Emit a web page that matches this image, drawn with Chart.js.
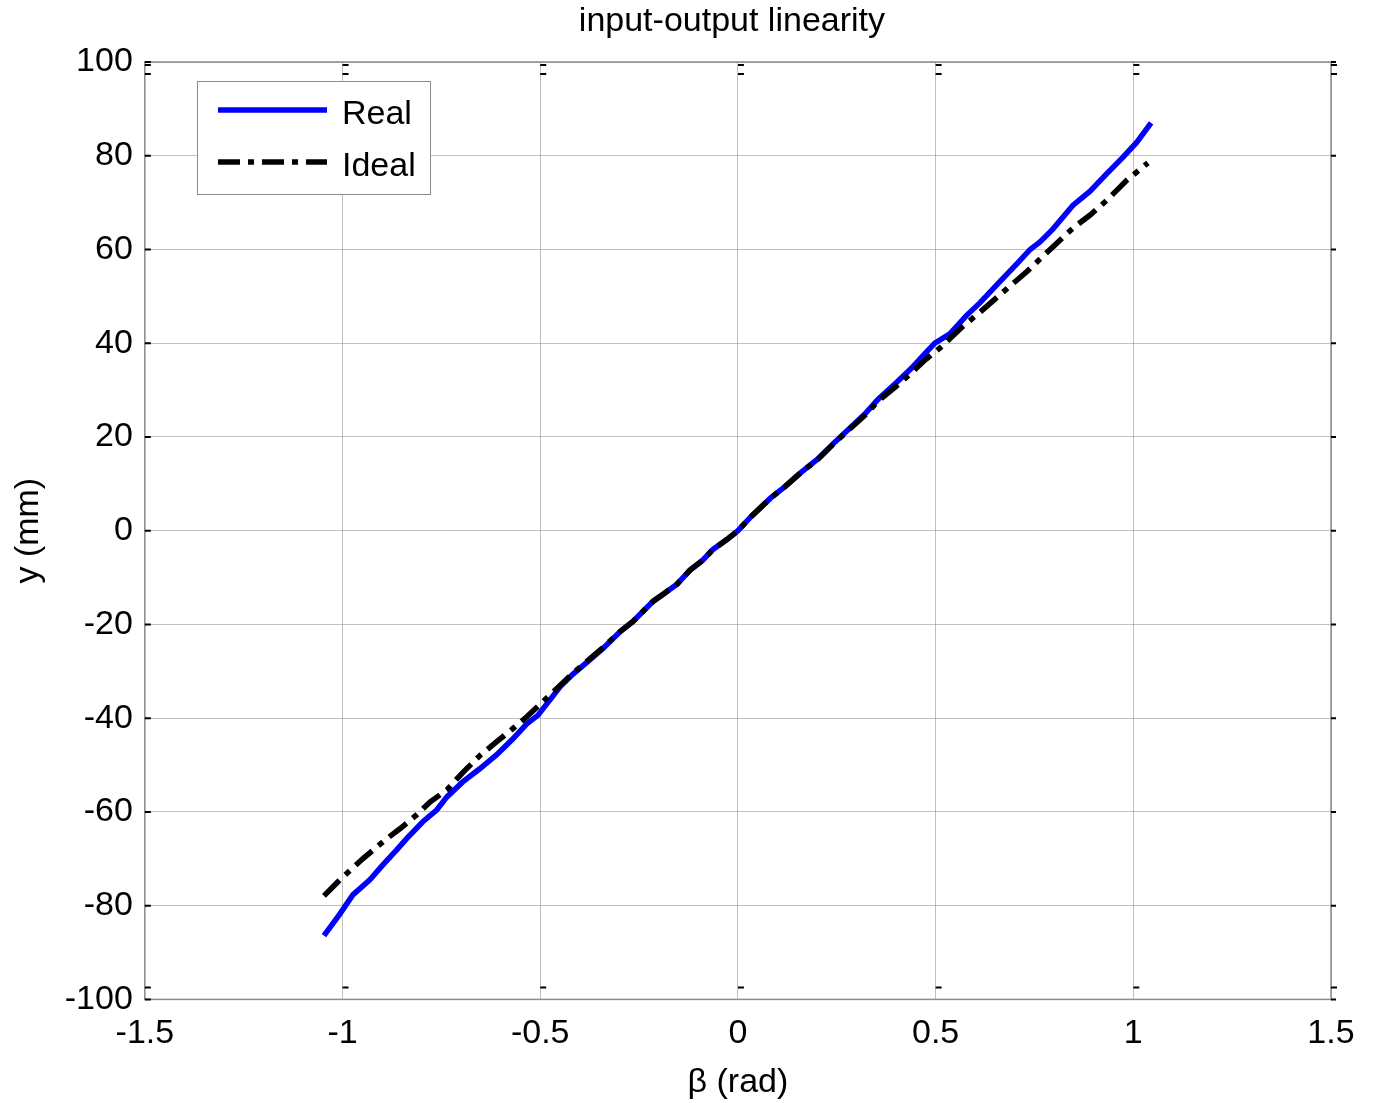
<!DOCTYPE html>
<html>
<head>
<meta charset="utf-8">
<script src="https://cdn.jsdelivr.net/npm/chart.js@4/dist/chart.umd.min.js"></script>
<style>
  html, body { margin: 0; padding: 0; background: #ffffff; }
  #wrap { width: 1375px; height: 1103px; position: relative; }
</style>
</head>
<body>
<div id="wrap"><canvas id="c" width="1375" height="1103"></canvas></div>
<script>
// ---- data ----
const realX = [-1.047,-1.007,-0.974,-0.931,-0.898,-0.863,-0.838,-0.797,-0.762,-0.736,-0.696,-0.653,-0.610,-0.569,-0.534,-0.506,-0.470,-0.450,-0.417,-0.374,-0.342,-0.299,-0.266,-0.215,-0.190,-0.154,-0.121,-0.089,-0.063,-0.028,0,
               0.033,0.083,0.119,0.159,0.202,0.245,0.278,0.321,0.354,0.397,0.438,0.473,0.498,0.536,0.579,0.612,0.663,0.706,0.739,0.764,0.797,0.847,0.890,0.933,0.974,1.009,1.045];
const realY = [-86.4,-81.8,-77.7,-74.5,-71.3,-68.1,-65.7,-62.1,-59.6,-56.8,-53.6,-50.8,-47.8,-44.4,-41.2,-39.4,-35.5,-33.3,-30.6,-27.5,-25.2,-21.6,-19.4,-15.1,-13.6,-11.4,-8.4,-6.3,-4.0,-1.9,0,
               3.0,7.0,9.4,12.4,15.3,18.9,21.5,24.9,28.0,31.3,34.6,37.8,40.0,42.0,46.0,48.6,53.2,57.0,60.0,61.6,64.4,69.4,72.4,76.2,79.7,82.9,87.0];
const idealX = [-1.047,-1.007,-0.949,-0.888,-0.855,-0.812,-0.779,-0.736,-0.696,-0.653,-0.610,-0.569,-0.534,-0.506,-0.450,-0.417,-0.374,-0.342,-0.299,-0.266,-0.215,-0.190,-0.154,-0.121,-0.089,-0.063,-0.028,0,
                0.033,0.083,0.119,0.159,0.202,0.245,0.278,0.321,0.354,0.397,0.438,0.473,0.511,0.569,0.612,0.680,0.731,0.797,0.848,0.890,0.933,0.984,1.037];
const idealY = [-77.9,-74.5,-70.0,-65.7,-63.6,-60.6,-57.9,-55.3,-51.6,-48.0,-45.0,-42.2,-39.7,-37.5,-33.0,-30.4,-27.3,-25.0,-21.6,-19.4,-15.1,-13.6,-11.4,-8.4,-6.3,-4.0,-1.9,0,
                3.0,7.0,9.4,12.4,15.2,18.8,21.3,24.6,27.6,30.6,33.6,36.4,39.0,43.6,46.6,51.6,55.3,60.6,64.6,67.3,70.5,74.8,78.5];
const seriesNames = ['Real', 'Ideal'];
const xTicks = [-1.5,-1,-0.5,0,0.5,1,1.5];
const yTicks = [-100,-80,-60,-40,-20,0,20,40,60,80,100];
const titleText = 'input-output linearity';
const xTitle = 'β (rad)';
const yTitle = 'y (mm)';

const FONT = '"Liberation Sans", Arial, sans-serif';
const FS = 34;
const DASHDOT = [22, 8, 6, 8];

const toPts = (xs, ys) => xs.map((x, i) => ({x: x, y: ys[i]}));

// title centred over the plot area (MATLAB style)
const plotTitle = {
  id: 'plotTitle',
  afterDraw(chart) {
    const ctx = chart.ctx, a = chart.chartArea;
    ctx.save();
    ctx.fillStyle = '#000';
    ctx.font = FS + 'px ' + FONT;
    ctx.textAlign = 'center';
    ctx.textBaseline = 'middle';
    ctx.fillText(titleText, (a.left + a.right) / 2 - 6, 22);
    ctx.restore();
  }
};

// legend drawn inside the plot like MATLAB
const insideLegend = {
  id: 'insideLegend',
  afterDatasetsDraw(chart) {
    const ctx = chart.ctx;
    const x0 = 197, y0 = 81, w = 233, h = 113;
    ctx.save();
    ctx.fillStyle = '#ffffff';
    ctx.fillRect(x0, y0, w, h);
    ctx.strokeStyle = '#8c8c8c';
    ctx.lineWidth = 1;
    ctx.strokeRect(x0 + 0.5, y0 + 0.5, w, h);
    chart.data.datasets.forEach((ds, i) => {
      const yy = y0 + 29 + i * 52;
      ctx.beginPath();
      ctx.strokeStyle = ds.borderColor;
      ctx.lineWidth = ds.borderWidth;
      ctx.setLineDash(ds.borderDash || []);
      ctx.moveTo(218, yy);
      ctx.lineTo(327, yy);
      ctx.stroke();
      ctx.setLineDash([]);
      ctx.fillStyle = '#000';
      ctx.font = FS + 'px ' + FONT;
      ctx.textBaseline = 'middle';
      ctx.textAlign = 'left';
      ctx.fillText(ds.label, 342, yy + 5);
    });
    ctx.restore();
  }
};

// frame and small tick marks
const frameTicks = {
  id: 'frameTicks',
  afterDraw(chart) {
    const ctx = chart.ctx, a = chart.chartArea;
    const xs = chart.scales.x, ys = chart.scales.y;
    ctx.save();
    ctx.strokeStyle = '#8c8c8c';
    ctx.lineWidth = 1.5;
    ctx.strokeRect(a.left, a.top, a.right - a.left, a.bottom - a.top);
    ctx.strokeStyle = '#000';
    ctx.lineWidth = 2;
    xTicks.forEach(v => {
      const px = xs.getPixelForValue(v);
      ctx.beginPath();
      ctx.moveTo(px, a.bottom - 12); ctx.lineTo(px + 6, a.bottom - 12);
      ctx.moveTo(px, a.top + 3); ctx.lineTo(px + 6, a.top + 3);
      ctx.moveTo(px, a.top + 12); ctx.lineTo(px + 6, a.top + 12);
      ctx.stroke();
    });
    yTicks.forEach(v => {
      const py = ys.getPixelForValue(v);
      ctx.beginPath();
      ctx.moveTo(a.left, py); ctx.lineTo(a.left + 6, py);
      ctx.moveTo(a.right, py); ctx.lineTo(a.right + 5, py);
      ctx.stroke();
    });
    ctx.restore();
  }
};

new Chart(document.getElementById('c'), {
  type: 'line',
  data: {
    datasets: [
      { label: seriesNames[0], data: toPts(realX, realY), borderColor: '#0000ff', borderWidth: 5.5,
        pointRadius: 0, tension: 0, fill: false, order: 1 },
      { label: seriesNames[1], data: toPts(idealX, idealY), borderColor: '#000000', borderWidth: 5.5,
        borderDash: DASHDOT, pointRadius: 0, tension: 0, fill: false, order: 0 }
    ]
  },
  options: {
    responsive: false,
    animation: false,
    devicePixelRatio: 1,
    layout: { padding: { left: 8, right: 44, top: 62, bottom: 0 } },
    plugins: {
      legend: { display: false },
      tooltip: { enabled: false },
      title: { display: false }
    },
    scales: {
      x: {
        type: 'linear', min: -1.5, max: 1.5,
        afterBuildTicks: s => { s.ticks = xTicks.map(v => ({value: v})); },
        ticks: { color: '#000', font: { family: FONT, size: FS }, padding: 14, maxRotation: 0,
                 callback: v => String(v) },
        grid: { color: 'rgba(140,140,140,0.55)', lineWidth: 1, drawTicks: false },
        border: { display: false },
        title: { display: true, text: xTitle, color: '#000', font: { family: FONT, size: FS }, padding: { top: -6, bottom: 0 } }
      },
      y: {
        type: 'linear', min: -100, max: 100,
        afterBuildTicks: s => { s.ticks = yTicks.map(v => ({value: v})); },
        ticks: { color: '#000', font: { family: FONT, size: FS }, padding: 12,
                 callback: v => String(v) },
        grid: { color: 'rgba(140,140,140,0.55)', lineWidth: 1, drawTicks: false },
        border: { display: false },
        title: { display: true, text: yTitle, color: '#000', font: { family: FONT, size: FS }, padding: { top: 0, bottom: 4 } }
      }
    }
  },
  plugins: [insideLegend, frameTicks, plotTitle]
});
</script>
</body>
</html>
